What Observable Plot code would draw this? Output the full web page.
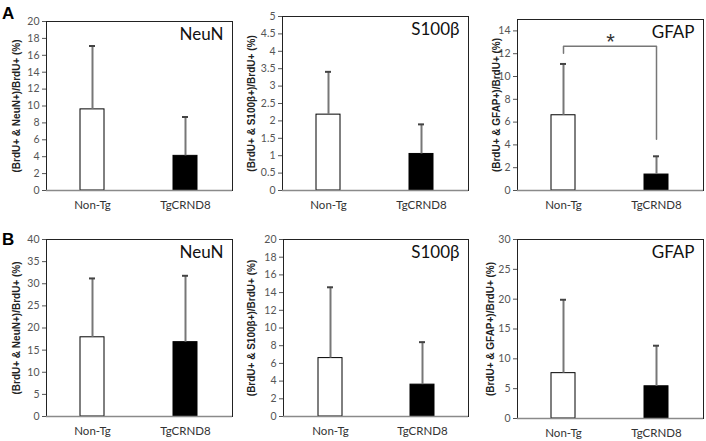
<!DOCTYPE html>
<html>
<head>
<meta charset="utf-8">
<script src="https://cdn.jsdelivr.net/npm/d3@7"></script>
<script src="https://cdn.jsdelivr.net/npm/@observablehq/plot@0.6"></script>
<style>
  html, body { margin: 0; padding: 0; background: #fff; }
  #wrap { position: relative; width: 706px; height: 441px; background: #fff; overflow: hidden; }
  .panel { position: absolute; }
  .letter { position: absolute; font: bold 17px "Liberation Sans", Arial, sans-serif; line-height: 17px; color: #000; }
</style>
</head>
<body>
<div id="wrap"></div>
<script>
// ---- data ----
const groups = ["Non-Tg", "TgCRND8"];

const aNeuNMean = [9.6, 4.1];
const aNeuNUpper = [17.1, 8.7];
const aS100Mean = [2.18, 1.05];
const aS100Upper = [3.41, 1.9];
const aGfapMean = [6.6, 1.4];
const aGfapUpper = [11.1, 3.0];

const bNeuNMean = [17.9, 16.8];
const bNeuNUpper = [31.2, 31.8];
const bS100Mean = [6.6, 3.6];
const bS100Upper = [14.6, 8.4];
const bGfapMean = [7.6, 5.4];
const bGfapUpper = [19.9, 12.2];

const ticks20 = [0, 2, 4, 6, 8, 10, 12, 14, 16, 18, 20];
const ticks5 = [0, 0.5, 1, 1.5, 2, 2.5, 3, 3.5, 4, 4.5, 5];
const ticks14 = [0, 2, 4, 6, 8, 10, 12, 14];
const ticks40 = [0, 5, 10, 15, 20, 25, 30, 35, 40];
const ticks30 = [0, 5, 10, 15, 20, 25, 30];

const labelNeuN = "(BrdU+ & NeuN+)/BrdU+ (%)";
const labelS100 = "(BrdU+ & S100\u03b2+)/BrdU+ (%)";
const labelGfap = "(BrdU+ & GFAP+)/BrdU+ (%)";

// significance bracket (panel A GFAP)
const bracketGroups = ["Non-Tg", "Non-Tg", "TgCRND8", "TgCRND8"];
const bracketValues = [12.05, 12.66, 12.66, 4.5];
const starValue = 13.0;

// ---- drawing ----
const wrap = document.getElementById("wrap");

function panel(o) {
  const data = groups.map((g, i) => ({g, v: o.means[i], u: o.uppers[i]}));
  const chart = Plot.plot({
    width: o.width, height: o.height,
    marginLeft: o.mL, marginRight: o.mR, marginTop: o.mT, marginBottom: o.mB,
    style: {background: "transparent", fontFamily: "Lato, 'Open Sans', sans-serif", overflow: "visible"},
    x: {domain: groups, paddingInner: 0.74, paddingOuter: 0.37, axis: null},
    y: {domain: o.domain, axis: null},
    color: {domain: groups, range: ["white", "black"]},
    marks: [
      Plot.barY(data, {x: "g", y: "v", fill: "g", stroke: "black", strokeWidth: 1}),
      Plot.ruleX(data, {x: "g", y1: "v", y2: "u", stroke: "#777", strokeWidth: 2}),
      Plot.tickY(data, {x: "g", y: "u", inset: 9, stroke: "#444", strokeWidth: 2}),
      ...(o.extra || []),
      Plot.frame({stroke: "#222", strokeWidth: 1}),
      Plot.ruleY([0], {stroke: "#8a8a8a", strokeWidth: 1.5}),
      Plot.axisY({ticks: o.ticks, tickFormat: d => String(d), tickSize: 4, tickPadding: 3,
        fontSize: 10.5, color: "#555", label: null}),
      Plot.axisX({tickSize: 0, tickPadding: 10, fontSize: 11.5, color: "#333", label: null}),
      Plot.text([o.ylabel], {frameAnchor: "left", rotate: -90, dx: -o.labelOffset, textAnchor: "middle",
        lineAnchor: "middle", fontWeight: "bold", fontFamily: "'Liberation Sans', Arial, sans-serif",
        fontSize: 10, fill: "#222"}),
      Plot.text([o.title], {frameAnchor: "top-right", dx: -9, dy: 6, fontSize: 17, fill: "#111"})
    ]
  });
  const div = document.createElement("div");
  div.className = "panel";
  div.style.left = o.left + "px";
  div.style.top = o.top + "px";
  div.appendChild(chart);
  wrap.appendChild(div);
}

const bracket = bracketGroups.map((g, i) => ({g, y: bracketValues[i]}));

panel({left: 0, top: 0, width: 235, height: 220, mL: 46, mR: 3, mT: 21, mB: 30,
  domain: [0, 20], ticks: ticks20, ylabel: labelNeuN, labelOffset: 30, title: "NeuN",
  means: aNeuNMean, uppers: aNeuNUpper});
panel({left: 235, top: 0, width: 235, height: 220, mL: 47, mR: 2, mT: 16, mB: 30,
  domain: [0, 5], ticks: ticks5, ylabel: labelS100, labelOffset: 31, title: "S100\u03b2",
  means: aS100Mean, uppers: aS100Upper});
panel({left: 470, top: 0, width: 236, height: 220, mL: 47, mR: 3, mT: 19, mB: 30,
  domain: [0, 15], ticks: ticks14, ylabel: labelGfap, labelOffset: 21, title: "GFAP",
  means: aGfapMean, uppers: aGfapUpper,
  extra: [
    Plot.line(bracket, {x: "g", y: "y", stroke: "#777", strokeWidth: 1.5}),
    Plot.text([starValue], {y: d => d, text: () => "*", fontSize: 22, fill: "#333",
      fontFamily: "'Liberation Sans', Arial, sans-serif", lineAnchor: "middle"})
  ]});

panel({left: 0, top: 220, width: 235, height: 221, mL: 46, mR: 3, mT: 19, mB: 25,
  domain: [0, 40], ticks: ticks40, ylabel: labelNeuN, labelOffset: 30, title: "NeuN",
  means: bNeuNMean, uppers: bNeuNUpper});
panel({left: 235, top: 220, width: 235, height: 221, mL: 48, mR: 2, mT: 19, mB: 25,
  domain: [0, 20], ticks: ticks20, ylabel: labelS100, labelOffset: 32, title: "S100\u03b2",
  means: bS100Mean, uppers: bS100Upper});
panel({left: 470, top: 220, width: 236, height: 221, mL: 47, mR: 3, mT: 19, mB: 23,
  domain: [0, 30], ticks: ticks30, ylabel: labelGfap, labelOffset: 27, title: "GFAP",
  means: bGfapMean, uppers: bGfapUpper});

for (const [t, x, y] of [["A", 2, 5], ["B", 2, 231]]) {
  const d = document.createElement("div");
  d.className = "letter";
  d.textContent = t;
  d.style.left = x + "px";
  d.style.top = y + "px";
  wrap.appendChild(d);
}
</script>
</body>
</html>
